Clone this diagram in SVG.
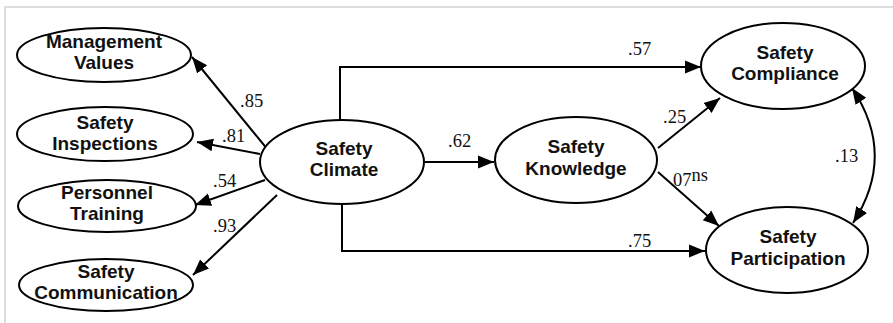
<svg xmlns="http://www.w3.org/2000/svg" width="893" height="323" viewBox="0 0 893 323">
<defs>
<marker id="ah" viewBox="0 0 10 10" refX="10" refY="5" markerWidth="16" markerHeight="16" markerUnits="userSpaceOnUse" orient="auto-start-reverse">
<path d="M0,1 L10,5 L0,9 Z" fill="#000"/>
</marker>
</defs>
<style>
.n ellipse{fill:#fff;stroke:#000;stroke-width:2}
.n text{font-family:"Liberation Sans",Arial,sans-serif;font-weight:bold;font-size:19px;text-anchor:middle;fill:#111}
.c path,.c line{fill:none;stroke:#000;stroke-width:2}
.l{font-family:"Liberation Serif","Times New Roman",serif;font-size:18.5px;fill:#111}
</style>
<rect width="893" height="323" fill="#fff"/>
<path d="M5,323 V7 H893" fill="none" stroke="#ddd" stroke-width="2"/>
<g class="c" id="connectors">
<path d="M340,120 V67 H701" marker-end="url(#ah)"/>
<path d="M342,205 V251 H705" marker-end="url(#ah)"/>
<line x1="425" y1="162" x2="494" y2="162" marker-end="url(#ah)"/>
<line x1="658" y1="148" x2="720" y2="98" marker-end="url(#ah)"/>
<line x1="658" y1="172" x2="719" y2="226" marker-end="url(#ah)"/>
<path d="M852,88 Q897,155 853,223" marker-start="url(#ah)" marker-end="url(#ah)"/>
<line x1="268" y1="150" x2="192" y2="57" marker-end="url(#ah)"/>
<line x1="260" y1="154" x2="197" y2="142" marker-end="url(#ah)"/>
<line x1="265" y1="180" x2="195" y2="205" marker-end="url(#ah)"/>
<line x1="277" y1="195" x2="193" y2="275" marker-end="url(#ah)"/>
</g>
<g id="labels">
<text class="l" x="240" y="107">.85</text>
<text class="l" x="222" y="142">.81</text>
<text class="l" x="213" y="187">.54</text>
<text class="l" x="213" y="232">.93</text>
<text class="l" x="628" y="55">.57</text>
<text class="l" x="448" y="147">.62</text>
<text class="l" x="628" y="247">.75</text>
<text class="l" x="663" y="123">.25</text>
<text class="l" x="673" y="186">07<tspan dy="-5">ns</tspan></text>
<text class="l" x="835" y="162">.13</text>
</g>
<g class="n" id="management-values"><ellipse cx="104" cy="55" rx="87" ry="27"/><text x="104" y="48">Management</text><text x="104" y="69">Values</text></g>
<g class="n" id="safety-inspections"><ellipse cx="105" cy="134" rx="88" ry="27"/><text x="105" y="129">Safety</text><text x="105" y="150">Inspections</text></g>
<g class="n" id="personnel-training"><ellipse cx="107" cy="206" rx="89" ry="26"/><text x="107" y="199">Personnel</text><text x="107" y="220">Training</text></g>
<g class="n" id="safety-communication"><ellipse cx="106" cy="285" rx="87" ry="26"/><text x="106" y="278">Safety</text><text x="106" y="299">Communication</text></g>
<g class="n" id="safety-climate"><ellipse cx="342" cy="162" rx="82" ry="42"/><text x="344" y="155">Safety</text><text x="344" y="176">Climate</text></g>
<g class="n" id="safety-knowledge"><ellipse cx="576" cy="160" rx="81" ry="43"/><text x="576" y="153">Safety</text><text x="576" y="175">Knowledge</text></g>
<g class="n" id="safety-compliance"><ellipse cx="783" cy="66" rx="82" ry="43"/><text x="785" y="59">Safety</text><text x="785" y="80">Compliance</text></g>
<g class="n" id="safety-participation"><ellipse cx="787" cy="250" rx="81" ry="43"/><text x="788" y="243">Safety</text><text x="788" y="265">Participation</text></g>
</svg>
